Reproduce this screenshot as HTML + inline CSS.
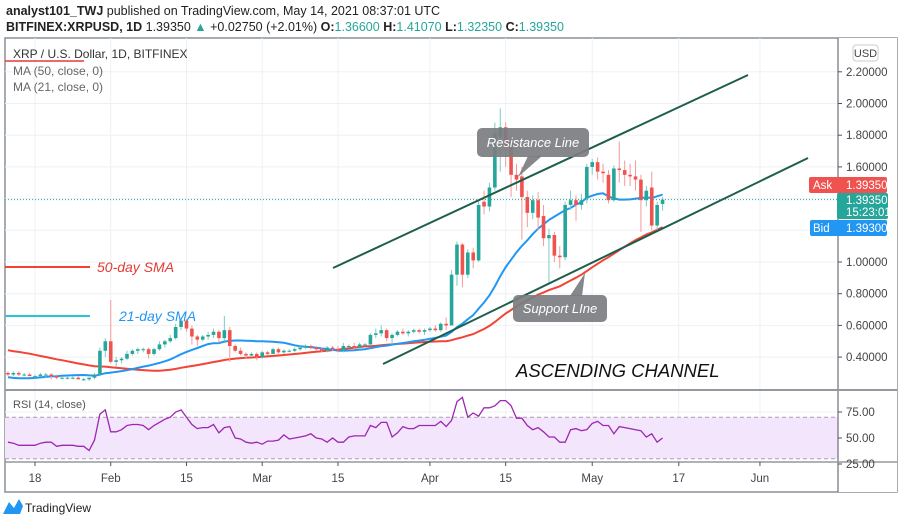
<!DOCTYPE html>
<html><head><meta charset="utf-8"><style>
html,body{margin:0;padding:0;background:#fff;}
svg{display:block;font-family:"Liberation Sans",sans-serif;}
</style></head><body>
<svg id="c" width="900" height="525" viewBox="0 0 900 525" xmlns="http://www.w3.org/2000/svg">
<text x="6" y="15" font-size="12.5" fill="#222"><tspan font-weight="bold">analyst101_TWJ</tspan> published on TradingView.com, May 14, 2021 08:37:01 UTC</text>
<text x="6" y="31" font-size="12.5" fill="#222"><tspan font-weight="bold">BITFINEX:XRPUSD, 1D</tspan> 1.39350 <tspan fill="#26a69a">▲</tspan> +0.02750 (+2.01%) <tspan font-weight="bold">O:</tspan><tspan fill="#26a69a">1.36600</tspan> <tspan font-weight="bold">H:</tspan><tspan fill="#26a69a">1.41070</tspan> <tspan font-weight="bold">L:</tspan><tspan fill="#26a69a">1.32350</tspan> <tspan font-weight="bold">C:</tspan><tspan fill="#26a69a">1.39350</tspan></text>
<rect x="5" y="38" width="892" height="454" fill="none" stroke="#8a8f98" stroke-width="1.5"/>
<g id="grid"></g>
<g id="rsiPane"></g>
<g id="mas"></g>
<g id="candles"></g>
<g id="axes"></g>
<g id="draw"></g>
</svg>
<script>
const categoriesStart = '2021-01-13';
const opens=[.30,.29,.30,.29,.29,.28,.28,.29,.29,.28,.27,.27,.27,.27,.26,.26,.27,.29,.44,
.50,.37,.38,.39,.42,.44,.45,.45,.42,.45,.48,.50,.52,.59,.63,.58,.53,.51,.53,.54,.56,.52,.57,.47,.44,.42,.41,.42,
.40,.43,.42,.45,.43,.44,.44,.45,.46,.47,.46,.45,.44,.46,.45,.44,.47,.47,.46,.48,.48,.54,.55,.57,.52,.54,.56,.55,.56,.57,.56,
.57,.58,.57,.61,.60,.92,1.11,.92,1.06,1.01,1.38,1.35,1.47,1.79,1.85,1.77,1.55,1.54,1.41,1.31,1.39,1.29,1.15,1.17,1.04,1.03,1.36,1.39,1.36,1.40,
1.60,1.63,1.57,1.55,1.39,1.59,1.58,1.55,1.54,1.52,1.39,1.47,1.23,1.366];
const highs=[.31,.31,.31,.30,.30,.29,.30,.30,.30,.29,.28,.28,.28,.28,.27,.27,.30,.46,.52,
.76,.40,.40,.44,.45,.46,.46,.46,.46,.50,.51,.54,.61,.65,.64,.60,.54,.54,.56,.58,.57,.66,.59,.48,.46,.43,.43,.43,
.44,.44,.46,.46,.45,.45,.46,.47,.48,.48,.47,.46,.47,.47,.47,.49,.48,.49,.49,.49,.55,.58,.60,.58,.55,.57,.58,.57,.58,.58,.58,
.59,.60,.62,.65,.95,1.13,1.12,1.08,1.09,1.39,1.45,1.50,1.88,1.97,1.88,1.80,1.62,1.60,1.45,1.42,1.44,1.36,1.21,1.19,1.10,1.38,1.45,1.42,1.43,1.62,
1.65,1.66,1.62,1.58,1.61,1.76,1.64,1.62,1.64,1.55,1.48,1.57,1.38,1.4107];
const lows=[.28,.28,.28,.28,.28,.27,.28,.27,.26,.26,.26,.26,.26,.26,.25,.25,.26,.28,.40,
.36,.34,.36,.38,.41,.42,.43,.39,.41,.44,.46,.49,.51,.57,.56,.48,.47,.50,.51,.52,.49,.50,.37,.43,.41,.39,.40,.38,
.39,.41,.42,.42,.42,.43,.43,.44,.45,.45,.44,.43,.43,.44,.43,.43,.46,.45,.45,.47,.47,.52,.53,.50,.48,.53,.54,.53,.55,.55,.54,
.56,.56,.56,.57,.60,.85,.84,.90,.96,1.00,1.30,1.32,1.45,1.57,1.60,1.41,1.45,1.14,1.22,1.27,1.20,1.10,.87,1.00,.96,1.01,1.33,1.26,1.33,1.37,
1.55,1.52,1.50,1.37,1.38,1.50,1.48,1.48,1.45,1.19,1.35,1.20,1.20,1.3235];
const closes=[.29,.30,.29,.29,.28,.28,.29,.29,.28,.27,.27,.27,.27,.26,.26,.27,.29,.44,.50,
.37,.38,.39,.42,.44,.45,.45,.42,.45,.48,.50,.52,.59,.63,.58,.53,.51,.53,.54,.56,.52,.57,.47,.44,.42,.41,.42,.40,
.43,.42,.45,.43,.44,.44,.45,.46,.47,.46,.45,.44,.46,.45,.44,.47,.47,.46,.48,.48,.54,.55,.57,.52,.54,.56,.55,.56,.57,.56,.57,
.58,.57,.61,.60,.92,1.11,.92,1.06,1.01,1.36,1.35,1.47,1.81,1.85,1.73,1.55,1.52,1.41,1.31,1.39,1.28,1.15,1.17,1.04,1.03,1.36,1.39,1.36,1.39,1.60,
1.63,1.57,1.56,1.39,1.59,1.58,1.55,1.54,1.52,1.39,1.45,1.23,1.36,1.3935];
const priorCloses=[.68,.62,.53,.55,.58,.63,.67,.61,.62,.63,.58,.61,.62,.60,.55,.57,.56,.52,.54,.55,.55,.57,.57,.58,.59,.58,.56,.55,.46,.32,.37,.33,.30,.29,.23,.22,.22,.22,.24,.22,.23,.24,.23,.25,.33,.32,.31,.30,.29,.29];
const rsiValues=[46,45,43,43,43,43,45,46,46,42,43,43,43,42,42,38,48,73,77,
56,56,58,62,63,63,62,58,62,65,68,70,75,77,70,63,59,60,60,63,55,60,61,50,49,46,45,46,
44,47,47,48,53,49,50,51,52,54,50,49,46,50,46,46,51,52,52,52,62,60,65,65,51,55,61,59,59,62,62,
62,62,66,61,67,85,89,70,74,71,79,79,81,86,86,81,69,69,62,58,60,56,51,51,46,46,58,59,57,58,
64,66,62,62,54,61,60,59,58,57,51,54,46,50];
const priceTicks=[2.2,2.0,1.8,1.6,1.4,1.2,1.0,0.8,0.6,0.4];
const priceTickLabels=["2.20000","2.00000","1.80000","1.60000","","","1.00000","0.80000","0.60000","0.40000"];
const timeTickDays=[0,14,28,42,56,73,87,103,119,134];
const timeTickLabels=["18","Feb","15","Mar","15","Apr","15","May","17","Jun"];
const rsiTicks=[75,50,25];
const rsiTickLabels=["75.00","50.00","25.00"];

const NS='http://www.w3.org/2000/svg';
function el(tag,attrs,parent,text){const e=document.createElementNS(NS,tag);for(const k in attrs)e.setAttribute(k,attrs[k]);if(text!==undefined)e.textContent=text;parent.appendChild(e);return e;}
const xDay=d=>35+d*5.41;
const xIdx=i=>xDay(i-5);
const yP=p=>262-(p-1)*158.5;
const yR=r=>438-(r-50)*1.04;
const L=5,R=838,T=38,B=390;

const grid=document.getElementById('grid');
priceTicks.forEach((p,i)=>{const y=yP(p);if(y>T&&y<B){const g=el('line',{x1:L,x2:R,y1:y,y2:y,stroke:'#edf1f5','stroke-width':1},grid);

}});
timeTickDays.forEach(d=>{const x=xDay(d);const g=el('line',{x1:x,x2:x,y1:T,y2:462,stroke:'#edf1f5','stroke-width':1},grid);

});
[yR(75),yR(50)].forEach(y=>{const g=el('line',{x1:L,x2:R,y1:y,y2:y,stroke:'#edf1f5'},grid);

});

const rp=document.getElementById('rsiPane');
const band=el('rect',{x:L,y:yR(70),width:R-L,height:yR(30)-yR(70),fill:'#f3e6fc'},rp);


[70,30].forEach(v=>{const l=el('line',{x1:L,x2:R,y1:yR(v),y2:yR(v),stroke:'#a9a0b0','stroke-dasharray':'4,3'},rp);

});
const rsiPts=rsiValues.map((v,i)=>xIdx(i).toFixed(1)+','+yR(v).toFixed(1)).join(' ');
const rl=el('polyline',{points:rsiPts,fill:'none',stroke:'#9c27b0','stroke-width':1.3},rp);


const rt=el('text',{x:13,y:408,'font-size':11,fill:'#555'},rp,'RSI (14, close)');



const all=priorCloses.concat(closes);
const mas=document.getElementById('mas');
function ma(n){const pts=[];for(let i=0;i<closes.length;i++){const k=i+priorCloses.length;if(k+1<n)continue;let s=0;for(let j=k-n+1;j<=k;j++)s+=all[j];pts.push(Math.max(L,xIdx(i)).toFixed(1)+','+yP(s/n).toFixed(1));}return pts.join(' ');}
const m50=el('polyline',{points:ma(50),fill:'none',stroke:'#f44336','stroke-width':2},mas);


const m21=el('polyline',{points:ma(21),fill:'none',stroke:'#2196f3','stroke-width':2},mas);



const cg=document.getElementById('candles');
closes.forEach((c,i)=>{const o=opens[i],x=xIdx(i),up=c>=o,col=up?'#26a69a':'#ef5350';
const w=el('line',{x1:x,x2:x,y1:yP(highs[i]),y2:yP(lows[i]),stroke:up?'#7ccbc3':'#f59a98','stroke-width':1},cg);


const yt=yP(Math.max(o,c)),yb=yP(Math.min(o,c));
const b=el('rect',{x:x-1.8,y:yt,width:3.6,height:Math.max(1,yb-yt),fill:col},cg);

});

const cp=el('line',{x1:L,x2:R,y1:yP(1.3935),y2:yP(1.3935),stroke:'#26a69a','stroke-dasharray':'1,2'},cg);



const ax=document.getElementById('axes');
el('rect',{x:R,y:T,width:59,height:454,fill:'#fff'},ax);
el('line',{x1:R,x2:R,y1:T,y2:492,stroke:'#50535e','stroke-width':1},ax);
el('line',{x1:L,x2:897,y1:B,y2:B,stroke:'#9598a1','stroke-width':2},ax);
el('line',{x1:L,x2:897,y1:462,y2:462,stroke:'#9598a1','stroke-width':1.5},ax);
priceTicks.forEach((p,i)=>{if(!priceTickLabels[i])return;const y=yP(p);el('line',{x1:R,x2:R+4,y1:y,y2:y,stroke:'#50535e'},ax);
const t=el('text',{x:846,y:y+4,'font-size':11.5,fill:'#444'},ax,priceTickLabels[i]);

});
rsiTicks.forEach((r,i)=>{const y=yR(r);el('line',{x1:R,x2:R+4,y1:y,y2:y,stroke:'#50535e'},ax);
const t=el('text',{x:846,y:y+4,'font-size':11.5,fill:'#444'},ax,rsiTickLabels[i]);

});
timeTickDays.forEach((d,i)=>{const x=xDay(d);el('line',{x1:x,x2:x,y1:462,y2:466,stroke:'#50535e'},ax);
const t=el('text',{x:x,y:482,'font-size':11.5,fill:'#444','text-anchor':'middle'},ax,timeTickLabels[i]);

});
</script>
<script>
const d=document.getElementById('draw');
d.innerHTML=`
<line x1="5" y1="267" x2="90" y2="267" stroke="#f44336" stroke-width="2"/>
<text x="97" y="272" font-size="14" font-style="italic" fill="#e53935">50-day SMA</text>
<line x1="5" y1="316" x2="90" y2="316" stroke="#26c6da" stroke-width="2"/>
<text x="119" y="321" font-size="14" font-style="italic" fill="#2196f3">21-day SMA</text>
<line x1="333" y1="268" x2="748" y2="75" stroke="#1e5e4a" stroke-width="2"/>
<line x1="383" y1="364" x2="808" y2="158" stroke="#1e5e4a" stroke-width="2"/>
<g>
<rect x="477" y="128" width="112" height="29" rx="5" fill="#7b7d80" opacity="0.92"/>
<polygon points="528,156 542,156 518,177" fill="#7b7d80" opacity="0.92"/>
<text x="533" y="147" font-size="13" font-style="italic" fill="#fff" text-anchor="middle">Resistance Line</text>
</g>
<g>
<rect x="513" y="295" width="94" height="27" rx="5" fill="#7b7d80" opacity="0.92"/>
<polygon points="570,296 582,296 585,273" fill="#7b7d80" opacity="0.92"/>
<text x="560" y="313" font-size="13" font-style="italic" fill="#fff" text-anchor="middle">Support LIne</text>
</g>
<text x="516" y="377" font-size="18.5" font-style="italic" fill="#111">ASCENDING CHANNEL</text>
<text x="13" y="58" font-size="12" fill="#333">XRP / U.S. Dollar, 1D, BITFINEX</text>
<line x1="5" y1="61" x2="84" y2="61" stroke="#e53935" stroke-width="1.5"/>
<text x="13" y="75" font-size="12" fill="#666">MA (50, close, 0)</text>
<text x="13" y="91" font-size="12" fill="#666">MA (21, close, 0)</text>
<g><rect x="853" y="45" width="25" height="16" rx="3" fill="#fff" stroke="#ccc"/><text x="865.5" y="57" font-size="11" fill="#444" text-anchor="middle">USD</text></g>
<g><rect x="809" y="177" width="78" height="16" rx="2" fill="#ef5350"/><text x="813" y="189" font-size="11.5" fill="#fff">Ask</text><text x="846" y="189" font-size="11.5" fill="#fff">1.39350</text></g>
<g><rect x="837" y="193" width="51" height="26" rx="2" fill="#26a69a"/><text x="846" y="204" font-size="11.5" fill="#fff">1.39350</text><text x="846" y="216" font-size="11.5" fill="#fff">15:23:01</text></g>
<g><rect x="810" y="220" width="77" height="16" rx="2" fill="#2196f3"/><text x="813" y="232" font-size="11.5" fill="#fff">Bid</text><text x="846" y="232" font-size="11.5" fill="#fff">1.39300</text></g>
<g>
<path d="M3 514 L9 502 L14 508 L19 499 L23 506 L20 514 Z" fill="#2196f3"/>
<text x="25" y="512" font-size="12" fill="#222">TradingView</text>
</g>`;
</script>
</body></html>
